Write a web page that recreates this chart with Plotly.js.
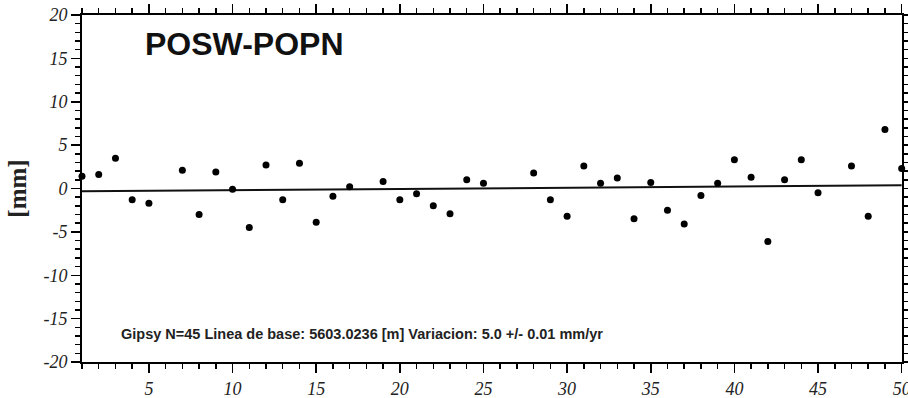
<!DOCTYPE html>
<html>
<head>
<meta charset="utf-8">
<script src="https://cdn.plot.ly/plotly-3.0.1.min.js"></script>
<style>html,body{margin:0;padding:0;background:#fff;}#chart{width:908px;height:398px;}
.xtick text, .ytick text{font-style:italic !important;}</style>
</head>
<body>
<div id="chart"></div>
<script>
// Data
const days = [1,2,3,4,5,7,8,9,10,11,12,13,14,15,16,17,19,20,21,22,23,24,25,28,29,30,31,32,33,34,35,36,37,38,39,40,41,42,43,44,45,47,48,49,50];
const residualsMm = [1.4,1.6,3.5,-1.3,-1.7,2.1,-3.0,1.9,-0.1,-4.5,2.7,-1.3,2.9,-3.9,-0.9,0.2,0.8,-1.3,-0.6,-2.0,-2.9,1.0,0.6,1.8,-1.3,-3.2,2.6,0.6,1.2,-3.5,0.7,-2.5,-4.1,-0.8,0.6,3.3,1.3,-6.1,1.0,3.3,-0.5,2.6,-3.2,6.8,2.3];
const trendX = [1, 50];
const trendY = [-0.32, 0.37];
const yTickVals = [-20,-15,-10,-5,0,5,10,15,20];
const yTickText = ['-20','-15','-10','-5','0','5','10','15','20'];
const xTickVals = [5,10,15,20,25,30,35,40,45,50];
const xTickText = ['5','10','15','20','25','30','35','40','45','50'];
const chartTitle = 'POSW-POPN';
const yTitle = '[mm]';
const note = 'Gipsy N=45 Linea de base: 5603.0236 [m] Variacion: 5.0 +/- 0.01 mm/yr';

const tickFont = {family: 'Liberation Serif, Times New Roman, serif', size: 18, color: '#222', style: 'italic'};
const ital = arr => arr.map(t => '<i>' + t + '</i>');

const traces = [
  {x: trendX, y: trendY, mode: 'lines', line: {color: '#111', width: 2}, hoverinfo: 'skip'},
  {x: days, y: residualsMm, mode: 'markers', marker: {color: '#000', size: 7}, cliponaxis: false}
];

const axisCommon = {
  showgrid: false, zeroline: false, showline: true, linecolor: '#000', linewidth: 2,
  mirror: 'allticks', ticks: 'outside', tickcolor: '#000', tickwidth: 1.5, ticklen: 9,
  tickfont: tickFont, tickmode: 'array', ticklabeloverflow: 'allow'
};

const layout = {
  width: 908, height: 398,
  margin: {l: 82, r: 6, t: 15, b: 36},
  paper_bgcolor: '#fff', plot_bgcolor: '#fff',
  showlegend: false,
  title: {
    text: '<b>' + chartTitle + '</b>',
    font: {family: 'Liberation Sans, Arial, sans-serif', size: 32, color: '#111'},
    x: 145/908, xanchor: 'left', xref: 'container',
    y: 1 - 44/398, yanchor: 'middle', yref: 'container'
  },
  xaxis: Object.assign({}, axisCommon, {
    range: [1, 50.02], tickvals: xTickVals, ticktext: ital(xTickText),
    minor: {dtick: 1, tick0: 0, ticks: 'outside', ticklen: 5, tickcolor: '#000', tickwidth: 1.5}
  }),
  yaxis: Object.assign({}, axisCommon, {
    range: [-20, 20], tickvals: yTickVals, ticktext: ital(yTickText),
    minor: {dtick: 1, tick0: 0, ticks: 'outside', ticklen: 5, tickcolor: '#000', tickwidth: 1.5},
    title: {text: '<b>' + yTitle + '</b>', font: {family: 'Liberation Serif, Times New Roman, serif', size: 25, color: '#222'}, standoff: 10}
  }),
  annotations: [{
    text: '<b>' + note + '</b>', xref: 'paper', yref: 'paper',
    x: (119-82)/820, y: (361.7-334)/347, xanchor: 'left', yanchor: 'middle',
    showarrow: false, font: {family: 'Liberation Sans, Arial, sans-serif', size: 14.5, color: '#222'}
  }]
};

Plotly.newPlot('chart', traces, layout, {displayModeBar: false, staticPlot: true});
</script>
</body>
</html>
